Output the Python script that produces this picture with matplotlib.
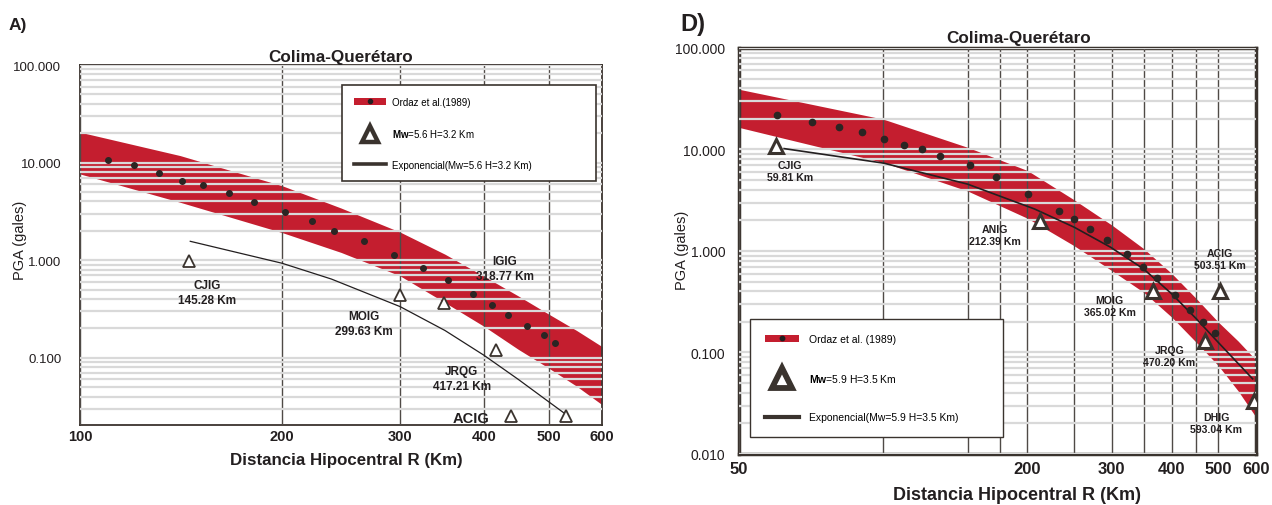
import matplotlib
matplotlib.use('Agg')
import numpy as np
import matplotlib.pyplot as plt
from matplotlib.ticker import NullLocator, NullFormatter, LogLocator
from matplotlib.patches import Patch
from matplotlib.lines import Line2D

plt.rcParams['font.family'] = ['Liberation Sans', 'DejaVu Sans']
plt.rcParams['mathtext.fontset'] = 'custom'
plt.rcParams['mathtext.rm'] = 'Liberation Sans'
plt.rcParams['mathtext.bf'] = 'Liberation Sans:bold'

# ---- panel A data ----
A_BAND_R = [100, 141, 200, 245, 300, 350, 400, 450, 500, 550, 600]
A_BAND_HI = [20.5, 11.8, 5.8, 3.42, 1.94, 1.15, 0.685, 0.43, 0.279, 0.19, 0.13]
A_BAND_LO = [7.65, 3.92, 1.92, 1.2, 0.69, 0.367, 0.21, 0.122, 0.078, 0.051, 0.033]

A_DOT_R = [110.2, 120.2, 131, 142, 152.4, 167, 181.6, 201.8, 221.5, 239.4,
           265, 294, 324.8, 353.4, 384.8, 410.8, 434.8, 463.6, 491, 511]
A_DOT_V = [10.7, 9.5, 7.84, 6.53, 5.9, 4.92, 3.95, 3.14, 2.5, 1.99,
           1.57, 1.12, 0.84, 0.62, 0.45, 0.347, 0.272, 0.211, 0.171, 0.141]

A_TRI_R = [145.28, 299.63, 349, 417.21, 439, 531]
A_TRI_V = [0.98, 0.44, 0.367, 0.12, 0.0255, 0.0255]

A_EXP_R = [146, 200, 237, 300, 350, 400, 450, 502, 531]
A_EXP_V = [1.56, 0.93, 0.64, 0.334, 0.19, 0.106, 0.06, 0.0345, 0.026]

A_LBL_TXT = ['CJIG\n145.28 Km', 'MOIG\n299.63 Km', 'IGIG\n318.77 Km', 'JRQG\n417.21 Km']
A_LBL_R = [154.8, 265.2, 430.2, 370.6]
A_LBL_V = [0.466, 0.225, 0.828, 0.0617]

A_XTICKS = [100, 200, 300, 400, 500, 600]
A_YTICKS = [0.1, 1, 10, 100]
A_YLABELS = ['0.100', '1.000', '10.000', '100.000']

# ---- panel D data ----
D_BAND_R = [50, 100, 150, 200, 250, 300, 350, 400, 450, 500, 550, 600]
D_BAND_HI = [39.2, 19.9, 10.5, 6.2, 3.2, 1.8, 1.05, 0.6, 0.34, 0.2, 0.13, 0.084]
D_BAND_LO = [16.5, 7.45, 3.9, 2.1, 1.13, 0.64, 0.39, 0.223, 0.126, 0.0745, 0.042, 0.023]

D_DOT_R = [60.1, 70.9, 81.0, 90.4, 100.4, 110.4, 120.5, 131.4, 151.7, 171.7, 200.7,
           232.8, 250.6, 270.6, 293, 322.8, 348.5, 373, 405.5, 435.7, 465.9, 491.4]
D_DOT_V = [22.1, 18.8, 16.6, 14.9, 12.7, 11.1, 10.07, 8.6, 7.0, 5.38, 3.62,
           2.49, 2.08, 1.65, 1.27, 0.93, 0.70, 0.54, 0.367, 0.265, 0.20, 0.156]

D_TRI_R = [59.81, 212.39, 365.02, 470.20, 503.51, 593.04]
D_TRI_V = [10.85, 1.99, 0.407, 0.129, 0.404, 0.033]

D_EXP_R = [62.1, 100.3, 149.9, 207, 250.6, 298, 349.5, 400, 450.5, 500, 590]
D_EXP_V = [10.2, 7.33, 4.56, 2.59, 1.71, 1.09, 0.665, 0.378, 0.214, 0.126, 0.055]

D_LBL_TXT = ['CJIG\n59.81 Km', 'ANIG\n212.39 Km', 'MOIG\n365.02 Km',
             'ACIG\n503.51 Km', 'JRQG\n470.20 Km', 'DHIG\n593.04 Km']
D_LBL_R = [63.9, 171.1, 296.6, 504.8, 395.2, 495.2]
D_LBL_V = [6.12, 1.443, 0.288, 0.834, 0.0918, 0.0202]

D_XTICKS = [50, 200, 300, 400, 500, 600]
D_XMINOR = [100, 150, 175, 250, 350, 450]
D_YTICKS = [0.01, 0.1, 1, 10, 100]
D_YLABELS = ['0.010', '0.100', '1.000', '10.000', '100.000']

RED = '#c41e2f'
DARK = '#3a332e'
INK = '#231f20'
GRID = '#d9d9d9'
VLINE = '#4f4a46'


def setup_axes(ax, xlim, ylim, xticks, yticks, ylabels, spine_lw, xsize, ysize, xpad, ypad):
    ax.set_xscale('log')
    ax.set_yscale('log')
    ax.set_xlim(*xlim)
    ax.set_ylim(*ylim)
    ax.set_xticks(xticks, labels=[str(t) for t in xticks], fontweight='bold', fontsize=xsize, color=INK)
    ax.xaxis.set_minor_locator(NullLocator())
    ax.xaxis.set_minor_formatter(NullFormatter())
    ax.set_yticks(yticks, labels=ylabels, fontsize=ysize, color=INK)
    ax.yaxis.set_minor_locator(LogLocator(base=10, subs=np.arange(2, 10), numticks=30))
    ax.yaxis.set_minor_formatter(NullFormatter())
    ax.tick_params(which='both', length=0)
    ax.tick_params(axis='x', pad=xpad)
    ax.tick_params(axis='y', pad=ypad)
    ax.set_axisbelow(False)
    ax.grid(True, which='both', axis='y', color=GRID, lw=1.6)
    ax.grid(True, which='major', axis='x', color=VLINE, lw=1.0)
    for s in ax.spines.values():
        s.set_color(DARK)
        s.set_linewidth(spine_lw)


fig = plt.figure(figsize=(12.72, 5.06), dpi=100)

# ================= panel A =================
axA = fig.add_axes([0.0629, 0.158, 0.4104, 0.7115])
setup_axes(axA, (100, 600), (0.0204, 100), A_XTICKS, A_YTICKS, A_YLABELS,
           1.3, 10.5, 9.5, 3, 13.5)

axA.fill_between(A_BAND_R, A_BAND_LO, A_BAND_HI, color=RED, lw=0, zorder=1)
axA.plot(A_EXP_R, A_EXP_V, '-', color=INK, lw=0.9, zorder=3)
axA.plot(A_DOT_R, A_DOT_V, 'o', ms=4, color='#2b2523', zorder=4)
axA.plot(A_TRI_R, A_TRI_V, '^', ms=9, mfc='white', mec=DARK, mew=1.3, ls='', zorder=4)

for t, r, v in zip(A_LBL_TXT, A_LBL_R, A_LBL_V):
    axA.text(r, v, t, ha='center', va='center', fontsize=8.5, fontweight='bold',
             color=INK, linespacing=1.35, zorder=3)
axA.text(382.3, 0.0242, 'ACIG', ha='center', va='center', fontsize=10.5,
         fontweight='bold', color=INK, zorder=3)

axA.text(0.5, 1.011, 'Colima-Querétaro', transform=axA.transAxes, ha='center',
         va='baseline', fontsize=12.3, fontweight='bold', color=INK)
axA.set_xlabel('Distancia Hipocentral R (Km)', fontsize=12.2, fontweight='bold', color=INK)
axA.xaxis.set_label_coords(0.51, -0.075)
axA.set_ylabel('PGA (gales)', fontsize=10.5, color=INK)
axA.yaxis.set_label_coords(-0.1015, 0.517)

hA = [(Patch(facecolor=RED, edgecolor='none'), Line2D([], [], ls='', marker='o', ms=3, color=INK)),
      Line2D([], [], ls='', marker='^', ms=11, mfc='white', mec=DARK, mew=3.2),
      Line2D([], [], color=DARK, lw=2.6)]
lA = ['Ordaz et al.(1989)', r'$\mathbf{Mw}$=5.6 H=3.2 Km', 'Exponencial(Mw=5.6 H=3.2 Km)']
legA = axA.legend(hA, lA, loc='upper left', bbox_to_anchor=(0.502, 0.667, 0.4865, 0.277),
                  mode='expand', borderaxespad=0, fontsize=7, fancybox=False,
                  edgecolor=DARK, framealpha=1, borderpad=1.2, labelspacing=2.1,
                  handlelength=3.3, handletextpad=0.6)
legA.get_frame().set_linewidth(1.2)

# ================= panel D =================
axD = fig.add_axes([0.581, 0.1008, 0.4065, 0.8024])
setup_axes(axD, (50, 600), (0.01, 100), D_XTICKS, D_YTICKS, D_YLABELS,
           2.5, 12, 10, 5, 10)
axD.set_xticks(D_XMINOR, minor=True)
axD.xaxis.set_minor_formatter(NullFormatter())
axD.tick_params(which='both', length=0)
axD.grid(True, which='minor', axis='x', color=VLINE, lw=1.0)

axD.fill_between(D_BAND_R, D_BAND_LO, D_BAND_HI, color=RED, lw=0, zorder=1)
axD.plot(D_EXP_R, D_EXP_V, '-', color=INK, lw=1.2, zorder=3)
axD.plot(D_DOT_R, D_DOT_V, 'o', ms=4.5, color='#2b2523', zorder=4)
axD.plot(D_TRI_R, D_TRI_V, '^', ms=10, mfc='white', mec=DARK, mew=2.2, ls='', zorder=4)

for t, r, v in zip(D_LBL_TXT, D_LBL_R, D_LBL_V):
    axD.text(r, v, t, ha='center', va='center', fontsize=7.6, fontweight='bold',
             color=INK, linespacing=1.3, zorder=3)

axD.text(0.54, 1.014, 'Colima-Querétaro', transform=axD.transAxes, ha='center',
         va='baseline', fontsize=12.3, fontweight='bold', color=INK)
axD.set_xlabel('Distancia Hipocentral R (Km)', fontsize=13, fontweight='bold', color=INK)
axD.xaxis.set_label_coords(0.538, -0.08)
axD.set_ylabel('PGA (gales)', fontsize=10.5, color=INK)
axD.yaxis.set_label_coords(-0.0967, 0.505)

hD = [(Patch(facecolor=RED, edgecolor='none'), Line2D([], [], ls='', marker='o', ms=3.2, color=INK)),
      Line2D([], [], ls='', marker='^', ms=14, mfc='white', mec=DARK, mew=4.2),
      Line2D([], [], color=DARK, lw=3)]
lD = ['Ordaz et al. (1989)', r'$\mathbf{Mw}$=5.9 H=3.5 Km', 'Exponencial(Mw=5.9 H=3.5 Km)']
legD = axD.legend(hD, lD, loc='upper left', bbox_to_anchor=(0.0213, 0.048, 0.4893, 0.2835),
                  mode='expand', borderaxespad=0, fontsize=7.5, fancybox=False,
                  edgecolor=DARK, framealpha=1, borderpad=1.4, labelspacing=2.7,
                  handlelength=3.3, handletextpad=1.0)
legD.get_frame().set_linewidth(1.0)

fig.text(0.007, 0.9407, 'A)', fontsize=12.5, fontweight='bold', color=INK, va='baseline')
fig.text(0.5346, 0.9387, 'D)', fontsize=17, fontweight='bold', color=INK, va='baseline')

fig.savefig('out.png', dpi=100, facecolor='white')
